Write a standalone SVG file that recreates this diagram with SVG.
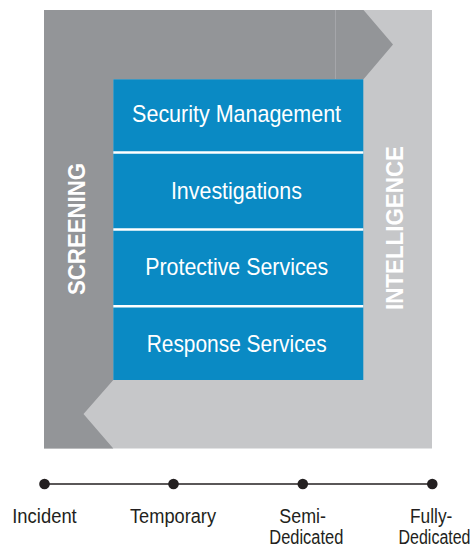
<svg xmlns="http://www.w3.org/2000/svg" width="475" height="549" viewBox="0 0 475 549">
  <style>
    .lbl { font-family: "Liberation Sans", Arial, sans-serif; fill: #ffffff; text-anchor: middle; font-size: 24px; }
    .side { font-family: "Liberation Sans", Arial, sans-serif; fill: #ffffff; text-anchor: middle; font-size: 23.5px; font-weight: bold; }
    .tl { font-family: "Liberation Sans", Arial, sans-serif; fill: #231f20; text-anchor: middle; font-size: 19.5px; }
    .sep { stroke: #ffffff; stroke-width: 2.5; }
    .dot { fill: #231f20; }
  </style>
  <rect width="475" height="549" fill="#ffffff"/>
  <g id="background">
    <rect x="44" y="10" width="388" height="438.5" fill="#c6c7c9"/>
    <polygon points="44,10 363.5,10 393,44.5 363.5,79.3 113.3,79.3 113.3,380 83.5,414 113.3,448.5 44,448.5" fill="#939598"/>
    <line x1="335.5" y1="10" x2="335.5" y2="79.3" stroke="#a9abae" stroke-width="0.8"/>
  </g>
  <g id="screening">
    <text class="side" transform="translate(85,229) rotate(-90)" textLength="132" lengthAdjust="spacingAndGlyphs">SCREENING</text>
  </g>
  <g id="intelligence">
    <text class="side" transform="translate(403.3,228) rotate(-90)" textLength="164" lengthAdjust="spacingAndGlyphs">INTELLIGENCE</text>
  </g>
  <g id="services-box">
    <rect x="113.3" y="79.3" width="250" height="300.7" fill="#0a8ac4"/>
  </g>
  <g id="security-management">
    <text class="lbl" x="236.6" y="122" textLength="209" lengthAdjust="spacingAndGlyphs">Security Management</text>
  </g>
  <g id="investigations">
    <text class="lbl" x="236.4" y="199.3" textLength="131" lengthAdjust="spacingAndGlyphs">Investigations</text>
  </g>
  <g id="protective-services">
    <text class="lbl" x="236.7" y="274.5" textLength="183" lengthAdjust="spacingAndGlyphs">Protective Services</text>
  </g>
  <g id="response-services">
    <text class="lbl" x="236.7" y="351.7" textLength="180" lengthAdjust="spacingAndGlyphs">Response Services</text>
  </g>
  <g id="separators">
    <line class="sep" x1="113.3" y1="152.5" x2="363.3" y2="152.5"/>
    <line class="sep" x1="113.3" y1="229.5" x2="363.3" y2="229.5"/>
    <line class="sep" x1="113.3" y1="306.3" x2="363.3" y2="306.3"/>
  </g>
  <g id="connectors">
    <line x1="44.5" y1="484" x2="432.3" y2="484" stroke="#231f20" stroke-width="1.5"/>
  </g>
  <g id="incident">
    <circle class="dot" cx="44.5" cy="484" r="5.3"/>
    <text class="tl" x="44.5" y="523.3" textLength="64.5" lengthAdjust="spacingAndGlyphs">Incident</text>
  </g>
  <g id="temporary">
    <circle class="dot" cx="173.5" cy="484" r="5.3"/>
    <text class="tl" x="173" y="523.3" textLength="86" lengthAdjust="spacingAndGlyphs">Temporary</text>
  </g>
  <g id="semi-dedicated">
    <circle class="dot" cx="302.8" cy="484" r="5.3"/>
    <text class="tl" x="302.7" y="523.3" textLength="46.7" lengthAdjust="spacingAndGlyphs">Semi-</text>
    <text class="tl" x="306.3" y="544" textLength="74" lengthAdjust="spacingAndGlyphs">Dedicated</text>
  </g>
  <g id="fully-dedicated">
    <circle class="dot" cx="432.3" cy="484" r="5.3"/>
    <text class="tl" x="431.2" y="523.3" textLength="42.3" lengthAdjust="spacingAndGlyphs">Fully-</text>
    <text class="tl" x="0" y="0" transform="translate(434.5,544) scale(0.82,1)">Dedicated</text>
  </g>
</svg>
